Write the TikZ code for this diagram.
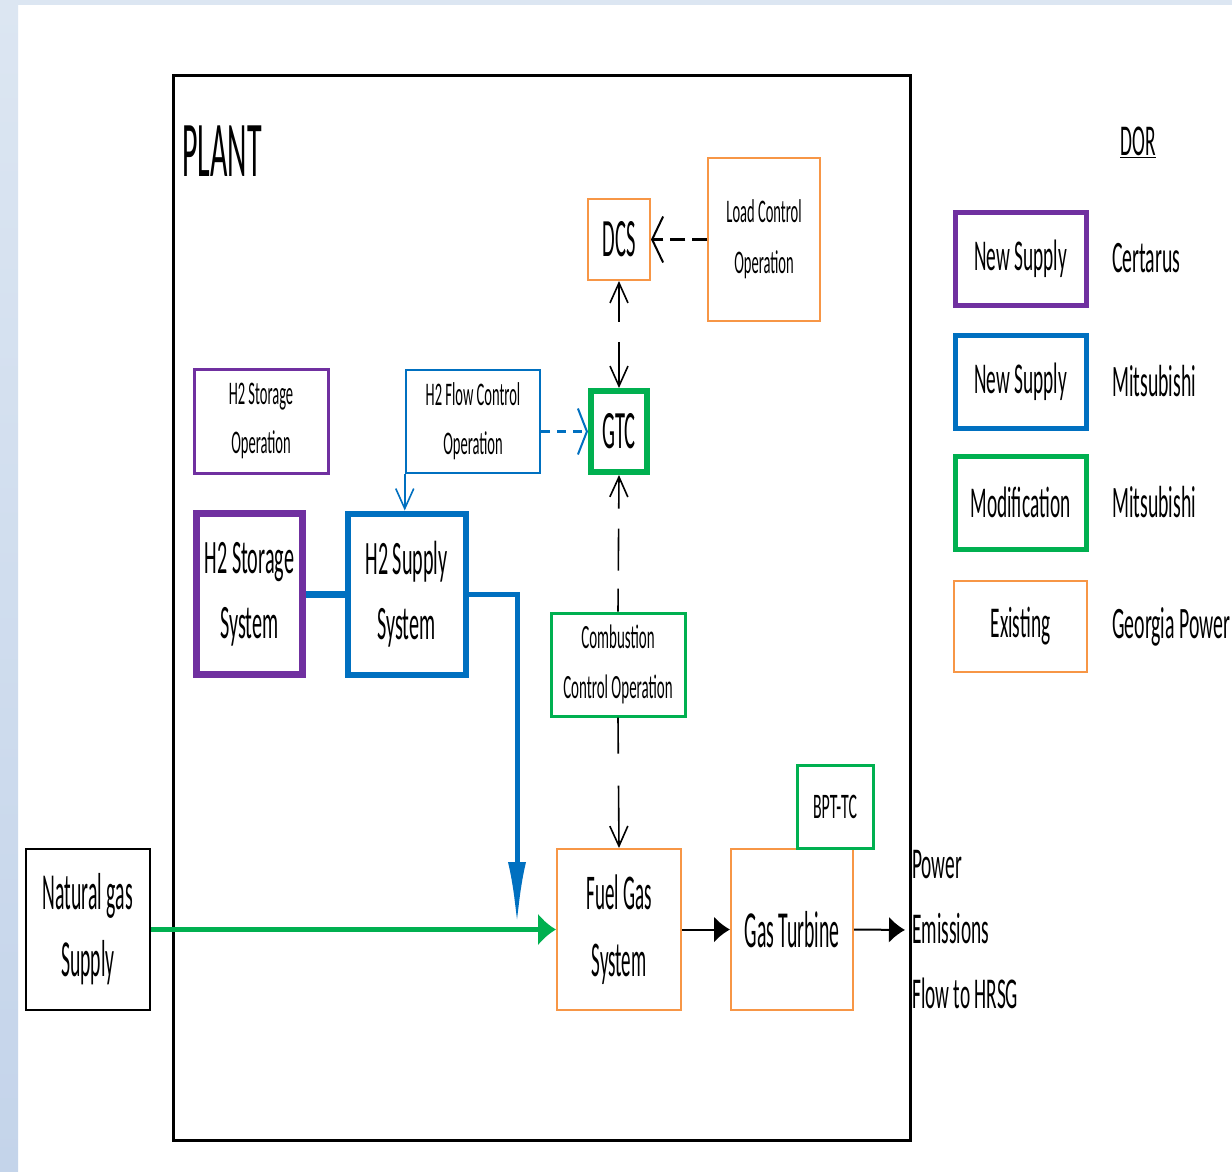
\documentclass[tikz,border=0pt]{standalone}
\usepackage{fontspec}
\setmainfont{Carlito}[FakeStretch=0.38]
\newfontfamily\midf{Carlito}[FakeStretch=0.44]
\newfontfamily\hf{Carlito}[FakeStretch=0.42]
\usetikzlibrary{arrows.meta}
\definecolor{cOrange}{HTML}{F79646}
\definecolor{cPurple}{HTML}{7030A0}
\definecolor{cBlue}{HTML}{0070C0}
\definecolor{cGreen}{HTML}{00B050}
\definecolor{bgA}{HTML}{DCE6F2}
\definecolor{bgB}{HTML}{B4C8E2}
\definecolor{bgC}{HTML}{C4D4EA}
\newcommand\fsz[2]{\fontsize{#1}{#2}\selectfont}
\begin{document}
\begin{tikzpicture}[x=1pt,y=-1pt,
  box/.style={draw, rectangle, inner sep=0pt, align=center, fill=white},
  orangebox/.style={box, draw=cOrange, line width=2pt},
  purplebox/.style={box, draw=cPurple},
  bluebox/.style={box, draw=cBlue},
  greenbox/.style={box, draw=cGreen},
  smalltext/.style={font=\midf\fsz{33}{49}},
  legendtext/.style={font=\midf\fsz{44}{50}},
  legendlabel/.style={anchor=west, inner sep=0pt, font=\midf\fsz{45}{50}},
  ctrlline/.style={draw=black, line width=1.6pt},
  barbtip/.style={-{Straight Barb[length=20,width=18,line width=1.6pt]}},
  flattip/.style={-{Straight Barb[length=11,width=46,line width=2pt]}},
]
% page and background
\fill[white] (0,0) rectangle (1232,1171);
\useasboundingbox (0,0) rectangle (1232,1171);
\shade[top color=bgA, middle color=bgB, bottom color=bgC] (0,0) rectangle (18,1171);
\fill[bgA] (0,0) rectangle (1232,5);

% plant frame
\node[draw=black, line width=3pt, minimum width=737, minimum height=1065, inner sep=0pt] (plant) at (541.5,607.5) {};
\node[anchor=base west, inner sep=0pt, font=\fsz{79}{80}] (plantlabel) at (182,176) {PLANT};

% control boxes
\node[orangebox, minimum width=62, minimum height=81, font=\fsz{54}{60}] (dcs) at (619,239.5) {DCS};
\node[orangebox, line width=1.5pt, minimum width=112, minimum height=163, font=\midf\fsz{33}{51}] (lco) at (764,239.5) {Load Control\\Operation};
\node[greenbox, line width=6pt, minimum width=56, minimum height=81, font=\fsz{54}{60}] (gtc) at (619,431.5) {GTC};
\node[bluebox, line width=2.5pt, minimum width=134, minimum height=103, smalltext] (hfco) at (473,421.5) {H2 Flow Control\\Operation};
\node[purplebox, line width=3pt, minimum width=134, minimum height=104, smalltext] (hso) at (261,421) {H2 Storage\\Operation};
\node[greenbox, line width=3pt, minimum width=134, minimum height=103, font=\midf\fsz{34}{50}] (cco) at (618,664.5) {Combustion\\Control Operation};

% system boxes
\node[purplebox, line width=6.5pt, minimum width=106, minimum height=161, font=\hf\fsz{48}{65}] (hss) at (249.5,594) {H2 Storage\\System};
\node[bluebox, line width=6pt, minimum width=118, minimum height=161, font=\hf\fsz{48}{65}] (hsup) at (406.5,594) {H2 Supply\\System};
\node[orangebox, minimum width=124, minimum height=161, font=\fsz{50}{67}] (fgs) at (619,929.5) {Fuel Gas\\System};
\node[orangebox, minimum width=122, minimum height=161, font=\fsz{52}{60}] (gt) at (792,929.5) {Gas Turbine};
\node[greenbox, line width=3pt, minimum width=76, minimum height=83, font=\midf\fsz{36}{40}] (bpt) at (835,806.5) {BPT-TC};
\node[box, draw=black, line width=2pt, minimum width=124, minimum height=161, font=\fsz{52}{67}] (ngs) at (88,929.5) {Natural gas\\Supply};
\node[anchor=west, inner sep=0pt, align=left, font=\midf\fsz{44}{65}] (out) at (912,930) {Power\\Emissions\\Flow to HRSG};

% legend
\node[inner sep=0pt, font=\midf\fsz{44}{50}] (dor) at (1138,142) {\underline{DOR}};
\node[purplebox, line width=5pt, minimum width=131, minimum height=93, legendtext] (lg1) at (1020.5,258.5) {New Supply};
\node[bluebox, line width=5pt, minimum width=131, minimum height=93, legendtext] (lg2) at (1020.5,381.5) {New Supply};
\node[greenbox, line width=5pt, minimum width=131, minimum height=93, legendtext] (lg3) at (1020.5,502.5) {Modification};
\node[orangebox, minimum width=133, minimum height=91, legendtext] (lg4) at (1020.5,626.5) {Existing};
\node[legendlabel] (ld1) at (1112,258.5) {Certarus};
\node[legendlabel] (ld2) at (1112,381.5) {Mitsubishi};
\node[legendlabel] (ld3) at (1112,502.5) {Mitsubishi};
\node[legendlabel] (ld4) at (1112,626.5) {Georgia Power};

% connectors
\draw[line width=3.2pt, dash pattern=on 15pt off 7pt, flattip] (lco.west) -- (dcs.east);
\draw[ctrlline, dash pattern=on 38pt off 20pt on 60pt off 10pt, {Straight Barb[length=20,width=18,line width=1.6pt]}-{Straight Barb[length=20,width=18,line width=1.6pt]}] (dcs.south) -- (gtc.north);
\draw[ctrlline, dash pattern=on 23pt off 18pt on 42pt off 20pt on 40pt, barbtip] (cco.north) -- (gtc.south);
\draw[ctrlline, dash pattern=on 36pt off 32pt on 70pt, barbtip] (cco.south) -- (fgs.north);
\draw[cBlue, line width=3pt, dash pattern=on 9pt off 7pt, -{Straight Barb[length=9,width=46,line width=2pt]}] (gtc.west -| hfco.east) -- (gtc.west);
\draw[cBlue, line width=1.6pt, barbtip] (hfco.south west) -- (hfco.south west |- hsup.north);
\draw[cBlue, line width=7pt] (hss.east) -- (hsup.west);
\coordinate (join) at (517,925);
\draw[cBlue, line width=5pt, -{Latex[length=63,width=18]}] (hsup.east) -| (join);
\draw[cGreen, line width=5pt, -{Latex[length=18,width=33]}] (ngs.east) -- (fgs.west);
\draw[black, line width=2pt, -{Latex[length=16,width=26]}] (fgs.east) -- (gt.west);
\draw[black, line width=2pt, shorten >=7pt, -{Latex[length=16,width=26]}] (gt.east) -- (out.west);
\end{tikzpicture}
\end{document}
